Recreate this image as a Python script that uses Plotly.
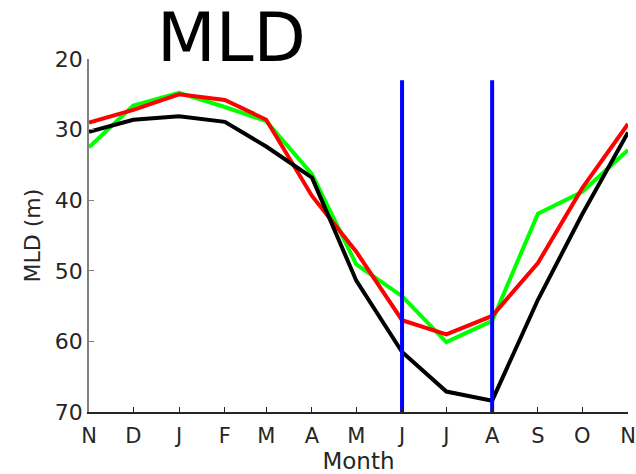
import plotly.graph_objects as go

# Day-of-year style positions for month ticks (Nov -> Nov)
month_days = [0, 30, 61, 92, 120, 151, 181, 212, 242, 273, 304, 334, 365]
month_labels = ["N", "D", "J", "F", "M", "A", "M", "J", "J", "A", "S", "O", "N"]

green_mld = [32.5, 26.6, 24.8, 26.8, 28.8, 36.3, 49.1, 53.6, 60.1, 57.1, 41.9, 38.8, 32.9]
red_mld = [29.0, 27.2, 25.0, 25.8, 28.6, 39.4, 47.3, 57.0, 59.0, 56.4, 48.9, 38.3, 29.2]
black_mld = [30.3, 28.6, 28.1, 28.9, 32.4, 36.8, 51.4, 61.5, 67.1, 68.4, 54.1, 42.0, 30.4]

vline_days = [212, 273]
vline_span = [23, 70]

fig = go.Figure()
for vals, col in [(green_mld, "#00FF00"), (red_mld, "#FF0000"), (black_mld, "#000000")]:
    fig.add_trace(go.Scatter(x=month_days, y=vals, mode="lines",
                             line=dict(color=col, width=4), showlegend=False))
for d in vline_days:
    fig.add_trace(go.Scatter(x=[d, d], y=vline_span, mode="lines",
                             line=dict(color="#0000FF", width=4), showlegend=False))

font = "DejaVu Sans"
fig.update_layout(
    width=636, height=474,
    margin=dict(l=89, r=8, t=59, b=62),
    paper_bgcolor="white", plot_bgcolor="white",
    font=dict(family=font, size=21, color="#262626"),
    xaxis=dict(range=[0, 365], tickmode="array", tickvals=month_days, ticktext=month_labels,
               ticks="inside", ticklen=5, tickcolor="#262626", showline=True,
               linecolor="#262626", linewidth=1.5, showgrid=False, zeroline=False,
               automargin=False, ticklabelstandoff=4,
               title=dict(text="Month", font=dict(size=23), standoff=6),
               tickfont=dict(size=21)),
    yaxis=dict(range=[70, 20], tickvals=[20, 30, 40, 50, 60, 70],
               ticks="inside", ticklen=5, tickcolor="#808080", showline=True,
               linecolor="#808080", linewidth=1.5, showgrid=False, zeroline=False,
               automargin=False,
               title=dict(text="MLD (m)", font=dict(size=22), standoff=8),
               tickfont=dict(size=22)),
    annotations=[dict(text="MLD", xref="paper", yref="paper", x=(231 - 89) / 539,
                      y=(412 - 37) / 353,
                      xanchor="center", yanchor="middle", showarrow=False,
                      font=dict(family=font, size=68, color="#000000"))],
)
fig.write_html("out.html", config={"displayModeBar": False},
               post_script="document.body.style.margin='0';document.body.style.overflow='hidden';")
